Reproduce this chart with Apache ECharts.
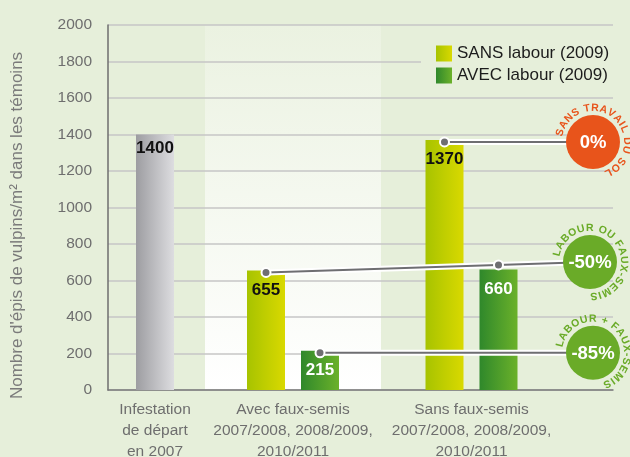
<!DOCTYPE html>
<html>
<head>
<meta charset="utf-8">
<script src="https://cdn.jsdelivr.net/npm/echarts@6/dist/echarts.min.js"></script>
<style>
  html, body { margin: 0; padding: 0; background: #e6efda; }
  #chart { width: 630px; height: 457px; }
</style>
</head>
<body>
<div id="chart"></div>
<script>
  // data
  var categories = [
    'Infestation\nde départ\nen 2007',
    'Avec faux-semis\n2007/2008, 2008/2009,\n2010/2011',
    'Sans faux-semis\n2007/2008, 2008/2009,\n2010/2011'
  ];
  var departValues = [1400];          // infestation de départ
  var sansLabour = [null, 655, 1370]; // SANS labour (2009)
  var avecLabour = [null, 215, 660];  // AVEC labour (2009)
  var yMin = 0, yMax = 2000, yInterval = 200;
  var reductions = ['0%', '-50%', '-85%'];
  var reductionNames = ['SANS TRAVAIL DU SOL', 'LABOUR OU FAUX-SEMIS', 'LABOUR + FAUX-SEMIS'];

  var BG = '#e6efda';
  var BAR_W = 38, BAR_GAP = 16;
  var ORANGE = '#e8541b', GREEN = '#6aab28', LINE_GREY = '#6e6e71';
  var FONT = 'Liberation Sans';

  function hGrad(c0, c1) {
    return new echarts.graphic.LinearGradient(0, 0, 1, 0, [
      { offset: 0, color: c0 }, { offset: 1, color: c1 }
    ]);
  }

  var chartDom = document.getElementById('chart');
  var myChart = echarts.init(chartDom);

  var gridTop = 25, gridHeight = 365;
  var barLabel = function (color, dist) {
    return {
      show: true, position: 'insideTop', distance: dist, color: color,
      fontFamily: FONT, fontWeight: 'bold', fontSize: 17
    };
  };
  var catAxis = function (gridIndex, cat) {
    return {
      type: 'category', gridIndex: gridIndex, data: [cat],
      axisLine: { show: false }, axisTick: { show: false },
      axisLabel: {
        margin: 9, color: '#6e6e6e', fontFamily: FONT,
        fontSize: 15.5, lineHeight: 21, interval: 0
      }
    };
  };
  var hiddenY = function (gridIndex) {
    return { type: 'value', gridIndex: gridIndex, min: yMin, max: yMax, show: false, splitLine: { show: false } };
  };
  var barSeries = function (name, gridIndex, values, fill, labelColor, dist) {
    return {
      name: name, type: 'bar', xAxisIndex: gridIndex, yAxisIndex: gridIndex,
      barWidth: BAR_W, barGap: (BAR_GAP / BAR_W * 100) + '%',
      data: values, itemStyle: { color: fill }, label: barLabel(labelColor, dist)
    };
  };
  var grid = function (left, width, extra) {
    var g = { left: left, top: gridTop, width: width, height: gridHeight, outerBoundsMode: 'none', containLabel: false };
    for (var key in extra) g[key] = extra[key];
    return g;
  };

  var option = {
    backgroundColor: BG,
    animation: false,
    legend: {
      data: ['SANS labour (2009)', 'AVEC labour (2009)'],
      orient: 'vertical', left: 421, top: 35,
      padding: [10, 10, 10, 15],
      backgroundColor: BG,
      icon: 'rect', itemWidth: 16, itemHeight: 16, itemGap: 5,
      textStyle: { fontFamily: FONT, fontSize: 17, color: '#1c1c1c' }
    },
    grid: [
      grid(108, 505, {}),
      grid(108, 94, {}),
      grid(205, 176, {
        show: true, borderWidth: 0,
        backgroundColor: new echarts.graphic.LinearGradient(0, 0, 0, 1, [
          { offset: 0, color: '#ebf2e1' }, { offset: 1, color: '#ffffff' }
        ])
      }),
      grid(381, 181, {})
    ],
    xAxis: [
      {
        type: 'category', gridIndex: 0, data: [''],
        axisLine: { show: true, lineStyle: { color: '#7a7a7a', width: 1.5 } },
        axisTick: { show: false }, axisLabel: { show: false }
      },
      catAxis(1, categories[0]),
      catAxis(2, categories[1]),
      catAxis(3, categories[2])
    ],
    yAxis: [
      {
        type: 'value', gridIndex: 0, min: yMin, max: yMax, interval: yInterval,
        name: "Nombre d'épis de vulpins/m² dans les témoins",
        nameLocation: 'middle', nameGap: 82,
        nameTextStyle: {
          fontFamily: FONT, fontSize: 17, color: '#7a7a7a',
          padding: [0, 36, 0, 0]
        },
        axisLine: { show: true, lineStyle: { color: '#6e6e6e', width: 1.5 } },
        axisTick: { show: false },
        axisLabel: {
          margin: 16, color: '#6e6e6e', fontFamily: FONT, fontSize: 15.5,
          formatter: function (v) { return String(v); }
        },
        splitLine: { lineStyle: { color: '#c6c6c6', width: 1.5 } }
      },
      hiddenY(1), hiddenY(2), hiddenY(3)
    ],
    series: [
      barSeries('Infestation', 1, departValues, hGrad('#9d9da1', '#dddde0'), '#111', 5),
      barSeries('SANS labour (2009)', 2, [sansLabour[1]], hGrad('#a7c300', '#d9d900'), '#111', 11),
      barSeries('AVEC labour (2009)', 2, [avecLabour[1]], hGrad('#2f882b', '#6bb12a'), '#fff', 11),
      barSeries('SANS labour (2009)', 3, [sansLabour[2]], hGrad('#a7c300', '#d9d900'), '#111', 11),
      barSeries('AVEC labour (2009)', 3, [avecLabour[2]], hGrad('#2f882b', '#6bb12a'), '#fff', 11)
    ]
  };

  option && myChart.setOption(option);

  // connectors from bar tops to the reduction circles
  var half = (BAR_W + BAR_GAP) / 2;
  function barTop(seriesIndex, cat, value, side) {
    var p = myChart.convertToPixel({ seriesIndex: seriesIndex }, [cat, value]);
    return [p[0] + side * half, p[1] + 2];
  }
  var p1370 = barTop(3, categories[2], sansLabour[2], -1);
  var p655 = barTop(1, categories[1], sansLabour[1], -1);
  var p215 = barTop(2, categories[1], avecLabour[1], 1);
  var x660 = barTop(4, categories[2], avecLabour[2], 1)[0];

  var circles = [[593, p1370[1]], [590, 262], [593, p215[1]]];
  var circleColors = [ORANGE, GREEN, GREEN];
  var starts = [p1370, p655, p215];

  var elements = [];
  function connector(a, b) {
    elements.push({ type: 'line', z: 50, shape: { x1: a[0], y1: a[1], x2: b[0], y2: b[1] },
      style: { stroke: '#ffffff', lineWidth: 6 } });
    elements.push({ type: 'line', z: 51, shape: { x1: a[0], y1: a[1], x2: b[0], y2: b[1] },
      style: { stroke: LINE_GREY, lineWidth: 2 } });
  }
  function dot(p) {
    elements.push({ type: 'circle', z: 52, shape: { cx: p[0], cy: p[1], r: 4.5 },
      style: { fill: LINE_GREY, stroke: '#ffffff', lineWidth: 2 } });
  }
  for (var i = 0; i < 3; i++) connector(starts[i], circles[i]);
  // the -50% line passes over the 660 bar
  var t = (x660 - p655[0]) / (circles[1][0] - p655[0]);
  var p660 = [x660, p655[1] + t * (circles[1][1] - p655[1])];
  [p1370, p655, p215, p660].forEach(dot);

  // curved captions: letters laid out by their measured widths
  var arcFont = 'bold 10.5px "' + FONT + '"';
  var ctx = document.createElement('canvas').getContext('2d');
  ctx.font = arcFont;
  var R = 34, tracking = 1.2, startDeg = -80;

  for (var k = 0; k < 3; k++) {
    var c = circles[k];
    elements.push({ type: 'circle', z: 60, shape: { cx: c[0], cy: c[1], r: 27 },
      style: { fill: circleColors[k] } });
    elements.push({ type: 'text', z: 61, x: c[0], y: c[1] + 1,
      style: { text: reductions[k], fill: '#fff', align: 'center', verticalAlign: 'middle',
        font: 'bold 18.5px "' + FONT + '"' } });
    var txt = reductionNames[k];
    var along = 0;
    for (var j = 0; j < txt.length; j++) {
      var ch = txt.charAt(j);
      var w = ctx.measureText(ch).width;
      var mid = along + w / 2;
      along += w + tracking;
      if (ch === ' ') continue;
      var th = startDeg * Math.PI / 180 + mid / R;
      elements.push({ type: 'text', z: 61,
        x: c[0] + R * Math.sin(th), y: c[1] - R * Math.cos(th), rotation: -th,
        style: { text: ch, fill: circleColors[k], align: 'center', verticalAlign: 'middle',
          font: arcFont } });
    }
  }
  myChart.setOption({ graphic: { elements: elements } });
</script>
</body>
</html>
